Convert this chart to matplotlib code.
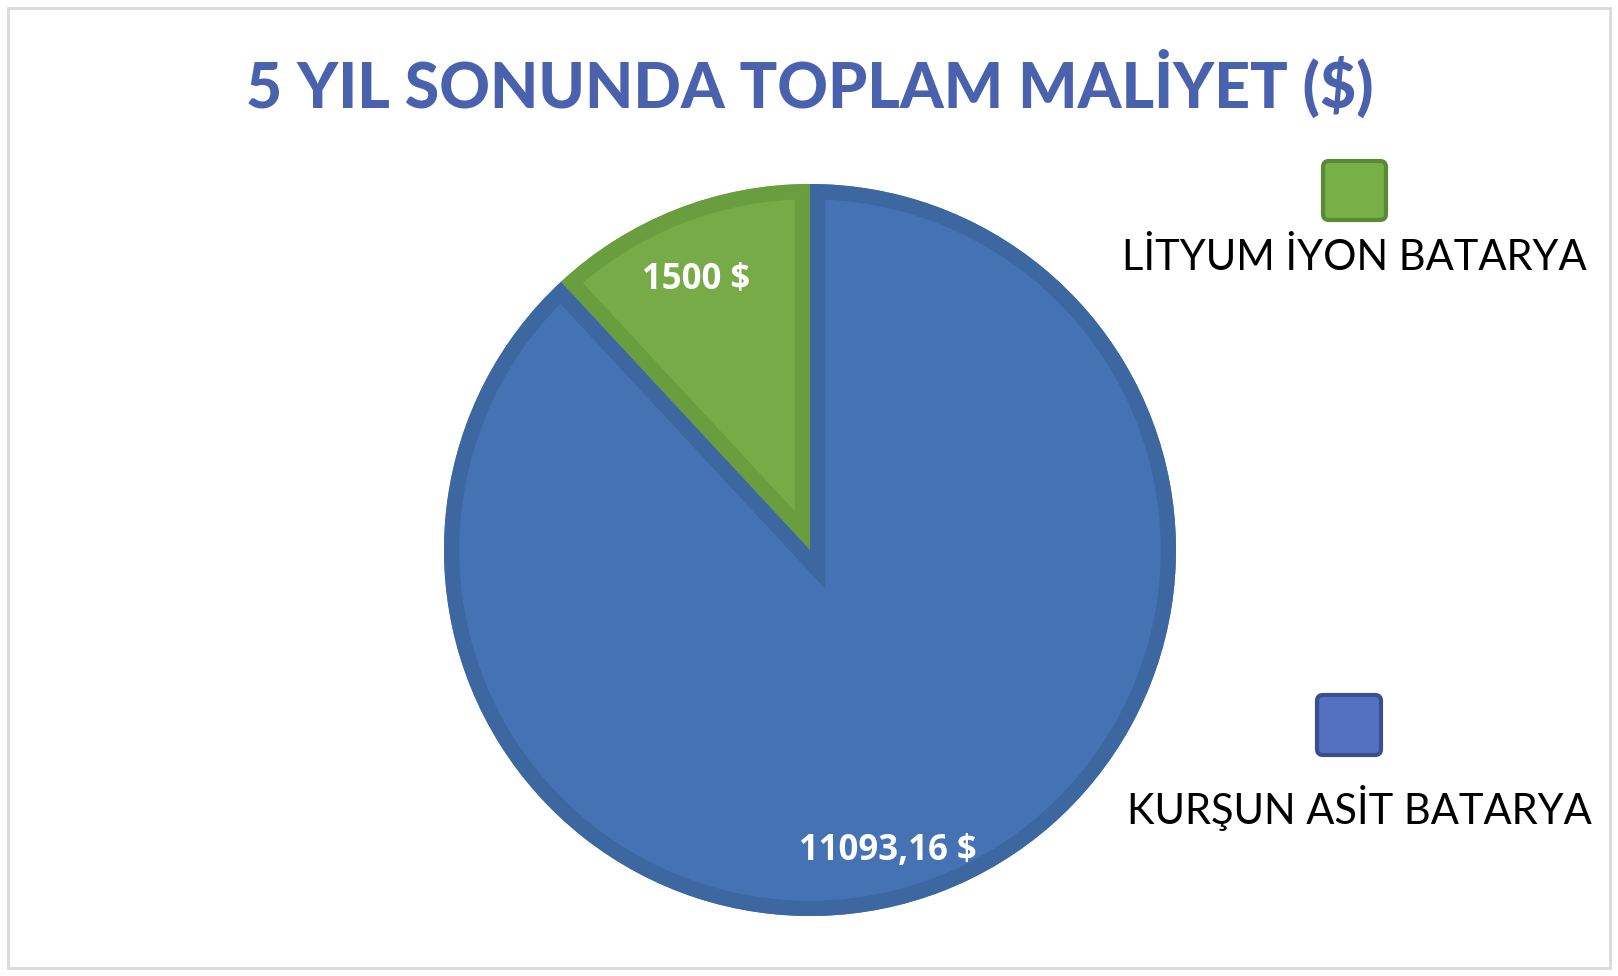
import numpy as np
import matplotlib
matplotlib.use("Agg")
import matplotlib.pyplot as plt
from matplotlib.patches import FancyBboxPatch, Rectangle, Wedge

# veriler
kategoriler = ["LİTYUM İYON BATARYA", "KURŞUN ASİT BATARYA"]
maliyet = [1500, 11093.16]
etiketler = ["1500 $", "11093,16 $"]
baslik = "5 YIL SONUNDA TOPLAM MALİYET ($)"

dolgu = ["#76ab48", "#4472b3"]
kenar = ["#699e3f", "#3d67a0"]
lejant_dolgu = ["#77b047", "#5470c0"]
lejant_kenar = ["#5b8a36", "#3b4f8f"]

W, H = 1618, 976
fig = plt.figure(figsize=(W / 100, H / 100), dpi=100)
ax = fig.add_axes([0, 0, 1, 1])

merkez = (810, H - 550)
yaricap = 366

wedges, _ = ax.pie(maliyet, colors=dolgu, startangle=90, counterclock=True,
                   center=merkez, radius=yaricap, frame=False,
                   wedgeprops=dict(linewidth=0))
# ic kenarlik (Excel gibi): ayni dilimin kopyasi, kalin cizgi, dilime kirpilmis
for w, k in zip(wedges, kenar):
    cerceve = Wedge(w.center, w.r, w.theta1, w.theta2, fill=False,
                    edgecolor=k, linewidth=22)
    ax.add_patch(cerceve)
    cerceve.set_clip_path(w)

# veri etiketleri
uzaklik = [0.80, 0.85]
aci_kaydir = [1.5, -7]
for w, txt, d, da in zip(wedges, etiketler, uzaklik, aci_kaydir):
    ang = np.deg2rad((w.theta1 + w.theta2) / 2 + da)
    x = merkez[0] + d * yaricap * np.cos(ang)
    y = merkez[1] + d * yaricap * np.sin(ang)
    ax.text(x, y, txt, ha="center", va="center", color="white",
            fontsize=25, fontweight="bold", family=["Open Sans", "DejaVu Sans"])

ax.set_xlim(0, W)
ax.set_ylim(0, H)
ax.set_aspect("auto")
ax.axis("off")

# dis cerceve
ax.add_patch(Rectangle((8, 8), W - 16, H - 16, fill=False, edgecolor="#d9d9d9", linewidth=2))

# baslik
ax.text(810, H - 108, baslik, ha="center", va="baseline", color="#4a62ae",
        fontsize=45, fontweight="black", family=["Lato", "DejaVu Sans"])

# lejant (kare ustte, yazi altta)
kutular = [(1323, H - 220, 63, 59), (1317, H - 755, 64, 60)]
yazilar = [(1354, H - 270), (1359, H - 824)]
for (bx, by, bw, bh), (tx, ty), lab, fc, ec in zip(kutular, yazilar, kategoriler, lejant_dolgu, lejant_kenar):
    ax.add_patch(FancyBboxPatch((bx + 6, by + 6), bw - 12, bh - 12,
                                boxstyle="round,pad=6", facecolor=fc, edgecolor=ec, linewidth=3))
    ax.text(tx, ty, lab, ha="center", va="baseline", color="black",
            fontsize=30, family=["Lato", "DejaVu Sans"])

fig.savefig("out.png", dpi=100, facecolor="white")
